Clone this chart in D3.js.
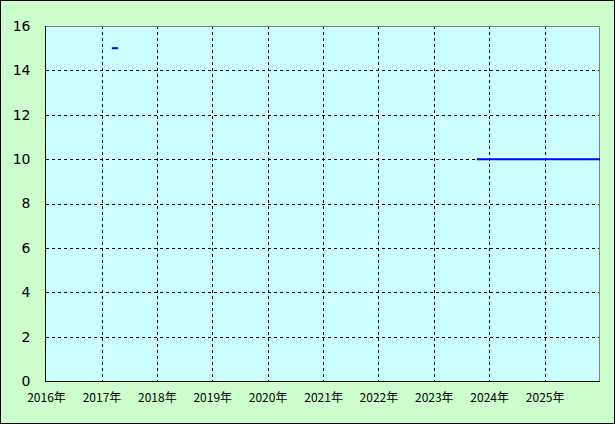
<!DOCTYPE html>
<html>
<head>
<meta charset="utf-8">
<script src="https://cdn.jsdelivr.net/npm/d3@7"></script>
<style>
  body { margin: 0; padding: 0; background: #fff; }
  svg { display: block; }
</style>
</head>
<body>
<svg id="chart"></svg>
<script>
// data
const yearTicks = [2016, 2017, 2018, 2019, 2020, 2021, 2022, 2023, 2024, 2025];
const yTicks = [0, 2, 4, 6, 8, 10, 12, 14, 16];
// two separate runs of the series (gap between them)
const segment1Dates = ['2017-03-10', '2017-04-20'];
const segment1Values = [15, 15];
const segment2Dates = ['2023-10-12', '2026-01-01'];
const segment2Values = [10, 10];

let width = 615
let height = 424
let plot = { left: 46, top: 26, right: 600, bottom: 381 }

let svg = d3.select('#chart')
  .attr('width', width)
  .attr('height', height)

// outer frame
svg.append('rect')
  .attr('x', 0.5).attr('y', 0.5)
  .attr('width', width - 1).attr('height', height - 1)
  .attr('fill', '#ccffcc')
  .attr('stroke', '#000')

let xScale = d3.scaleTime()
  .domain([new Date(2016, 0, 1), new Date(2026, 0, 1)])
  .range([plot.left, plot.right])

let yScale = d3.scaleLinear()
  .domain([0, 16])
  .range([plot.bottom, plot.top])

// plot background
svg.append('rect')
  .attr('x', plot.left).attr('y', plot.top)
  .attr('width', plot.right - plot.left)
  .attr('height', plot.bottom - plot.top)
  .attr('fill', '#ccffff')

// dashed grid
svg.append('g')
  .selectAll('line')
  .data(yearTicks.filter(y => y > 2016))
  .enter()
  .append('line')
  .attr('x1', d => Math.round(xScale(new Date(d, 0, 1))) + 0.5)
  .attr('x2', d => Math.round(xScale(new Date(d, 0, 1))) + 0.5)
  .attr('y1', plot.top)
  .attr('y2', plot.bottom)
  .attr('stroke', '#000')
  .attr('stroke-dasharray', '3,3')

svg.append('g')
  .selectAll('line')
  .data(yTicks.filter(v => v > 0 && v < 16))
  .enter()
  .append('line')
  .attr('x1', plot.left)
  .attr('x2', plot.right)
  .attr('y1', d => Math.round(yScale(d)) + 0.5)
  .attr('y2', d => Math.round(yScale(d)) + 0.5)
  .attr('stroke', '#000')
  .attr('stroke-dasharray', '3,3')

// plot border: grey top/right, black left/bottom
svg.append('path')
  .attr('d', `M${plot.left},${plot.top + 0.5}H${plot.right - 0.5}V${plot.bottom}`)
  .attr('fill', 'none')
  .attr('stroke', '#808080')

// axes
let xAxis = d3.axisBottom(xScale)
  .tickValues(yearTicks.map(y => new Date(y, 0, 1)))
  .tickFormat(d => d.getFullYear() + '年')
  .tickSize(0)
  .tickPadding(12)

let yAxis = d3.axisLeft(yScale)
  .tickValues(yTicks)
  .tickSize(0)
  .tickPadding(15)

svg.append('g')
  .attr('transform', `translate(0, ${plot.bottom + 0.5})`)
  .call(xAxis)
  .call(g => g.select('.domain').attr('stroke', '#000').attr('d', `M${plot.left - 0.5},0H${plot.right}`))
  .selectAll('text')
  .style('font-family', '"Noto Sans CJK JP", sans-serif')
  .style('font-size', '12px')
  .style('fill', '#000')

svg.append('g')
  .attr('transform', `translate(${plot.left - 0.5}, 0)`)
  .call(yAxis)
  .call(g => g.select('.domain').attr('stroke', '#000').attr('d', `M0,${plot.top}V${plot.bottom + 1}`))
  .selectAll('text')
  .style('font-family', '"DejaVu Sans", sans-serif')
  .style('font-size', '14px')
  .style('fill', '#000')

// series
let line = d3.line()
  .x(d => xScale(d[0]))
  .y(d => yScale(d[1]))

let segments = [
  segment1Dates.map((d, i) => [new Date(d), segment1Values[i]]),
  segment2Dates.map((d, i) => [new Date(d), segment2Values[i]])
]

svg.append('g')
  .selectAll('path')
  .data(segments)
  .enter()
  .append('path')
  .attr('d', line)
  .attr('fill', 'none')
  .attr('stroke', '#0000ff')
  .attr('stroke-width', 2)
</script>
</body>
</html>
